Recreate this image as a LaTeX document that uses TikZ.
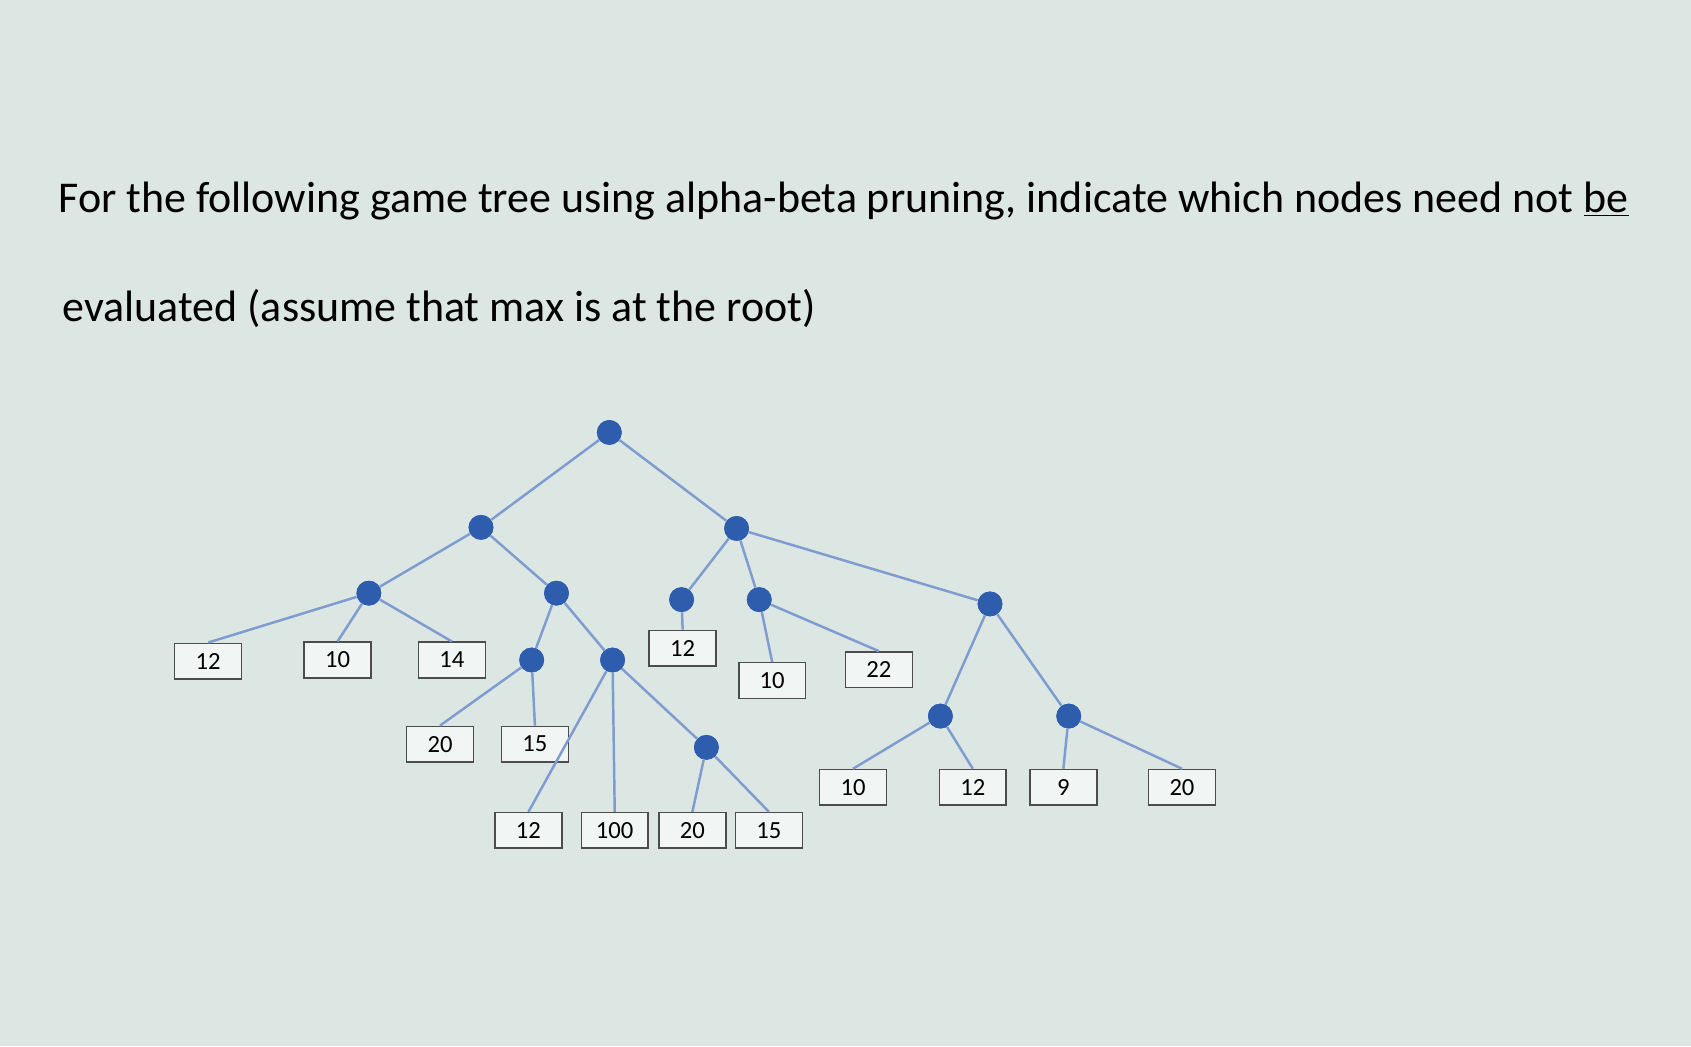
\documentclass[tikz,border=0pt]{standalone}
\usepackage{fontspec}
\setmainfont{Carlito}
\definecolor{bg}{HTML}{DCE6E2}
\definecolor{dot}{HTML}{2F5DAE}
\definecolor{edge}{HTML}{7E9CD0}
\begin{document}
\begin{tikzpicture}[x=0.02cm,y=-0.02cm,
  inner/.style={circle,fill=dot,inner sep=0pt,minimum size=0.46cm},
  leaf/.style={draw=black!70,line width=0.8pt,fill=white!60!bg,minimum width=1.24cm,minimum height=0.66cm,inner sep=0pt,font=\fontsize{13}{15}\selectfont},
  con/.style={edge,line width=1.3pt}]
\fill[bg] (0,0) rectangle (1568,970);
\useasboundingbox (0,0) rectangle (1568,970);
\node[anchor=west,font=\fontsize{23.2}{27}\selectfont] (t1) at (48,186) {For the following game tree using alpha-beta pruning, indicate which nodes need not \underline{be}};
\node[anchor=west,font=\fontsize{23.2}{27}\selectfont] (t2) at (52,286) {evaluated (assume that max is at the root)};
\node[inner] (r) at (565,401) {};
\node[inner] (a) at (446,489) {};
\node[inner] (b) at (683,490) {};
\node[inner] (c) at (342,550) {};
\node[inner] (d) at (516,550) {};
\node[inner] (e) at (493,612) {};
\node[inner] (f) at (568,612) {};
\node[inner] (g) at (655,693) {};
\node[inner] (h) at (632,556) {};
\node[inner] (i) at (704,556) {};
\node[inner] (j) at (918,560) {};
\node[inner] (k) at (872,664) {};
\node[inner] (l) at (991,664) {};
\node[leaf] (c1) at (193,613) {12};
\node[leaf] (c2) at (313,612) {10};
\node[leaf] (c3) at (419,612) {14};
\node[leaf] (e1) at (408,690) {20};
\node[leaf] (e2) at (496,690) {15};
\node[leaf] (f1) at (490,770) {12};
\node[leaf] (f2) at (570,770) {100};
\node[leaf] (g1) at (642,770) {20};
\node[leaf] (g2) at (713,770) {15};
\node[leaf] (h1) at (633,601) {12};
\node[leaf] (i1) at (716,631) {10};
\node[leaf] (i2) at (815,621) {22};
\node[leaf] (k1) at (791,730) {10};
\node[leaf] (k2) at (902,730) {12};
\node[leaf] (l1) at (986,730) {9};
\node[leaf] (l2) at (1096,730) {20};
\draw[con] (r)--(a) (r)--(b) (a)--(c) (a)--(d) (c)--(c1.north) (c)--(c2.north) (c)--(c3.north)
 (d)--(e) (d)--(f) (e)--(e1.north) (e)--(e2.north) (f)--(f1.north) (f)--(f2.north) (f)--(g)
 (g)--(g1.north) (g)--(g2.north) (b)--(h) (b)--(i) (b)--(j) (h)--(h1.north) (i)--(i1.north) (i)--(i2.north)
 (j)--(k) (j)--(l) (k)--(k1.north) (k)--(k2.north) (l)--(l1.north) (l)--(l2.north);
\foreach \n in {r,a,b,c,d,e,f,g,h,i,j,k,l} \node[inner] at (\n) {};
\end{tikzpicture}
\end{document}
